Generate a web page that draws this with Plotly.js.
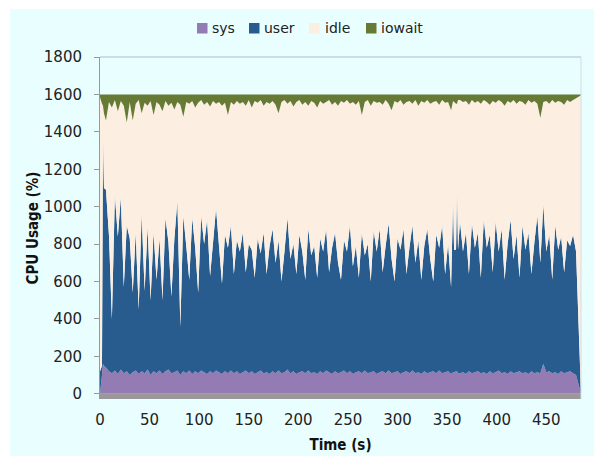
<!DOCTYPE html>
<html>
<head>
<meta charset="utf-8">
<script src="https://cdn.plot.ly/plotly-3.0.1.min.js"></script>
<style>
html,body{margin:0;padding:0;background:#ffffff;}
#chart{width:594px;height:456px;}
</style>
</head>
<body>
<div id="chart"></div>
<script>
// ---- data (~3 s sampling) ----
const seriesNames = ['sys', 'user', 'idle', 'iowait'];
const times = [0,2,3,4,6,9,12,15,18,21,24,27,30,33,36,39,42,45,48,51,54,57,60,63,66,69,72,75,78,81,84,87,90,93,96,99,102,105,108,111,114,117,120,123,126,129,132,135,138,141,144,147,150,153,156,159,162,165,168,171,174,177,180,183,186,189,192,195,198,201,204,207,210,213,216,219,222,225,228,231,234,237,240,243,246,249,252,255,258,261,264,267,270,273,276,279,282,285,288,291,294,297,300,303,306,309,312,315,318,321,324,327,330,333,336,339,342,345,348,351,354,356,357,359,360,361,363,366,369,372,375,378,381,384,387,390,393,396,399,402,405,408,411,414,417,420,423,426,429,432,435,438,441,444,447,450,453,456,459,462,465,468,471,474,477,480,485];
const sys = [0,100,160,150,140,120,110,125,105,130,110,120,
100,115,125,105,120,110,130,100,120,110,
125,105,120,130,110,115,125,100,120,110,
125,105,120,110,125,115,105,120,110,125,
115,105,120,110,125,110,120,105,115,125,
110,120,105,115,125,110,115,105,120,110,
125,110,115,130,110,120,105,115,120,110,
125,110,115,105,120,110,125,115,105,120,
110,115,125,110,120,105,115,120,110,125,
110,115,120,105,115,120,110,125,110,115,
120,105,115,120,110,125,110,115,105,120,
110,115,120,110,125,110,115,120,105,115,115,120,120,110,
110,115,105,120,110,115,120,110,115,
105,120,110,115,125,110,115,105,120,110,
115,120,110,115,105,120,110,115,110,160,
115,120,110,115,105,120,110,115,120,110,
100,0];
const user = [120,50,1230,950,950,730,290,935,735,920,460,780,
730,425,735,345,840,440,760,400,740,500,
705,395,820,680,410,715,905,260,830,680,
485,835,660,430,825,685,825,510,700,865,
675,485,730,670,775,530,700,655,745,525,
690,650,515,715,625,750,525,685,760,590,
695,490,645,810,610,680,535,735,640,500,
755,630,675,515,710,650,755,535,675,740,
590,495,695,650,780,575,675,500,750,615,
690,485,750,655,765,530,680,785,610,485,
710,665,765,520,670,775,590,705,505,670,
770,605,480,740,655,790,525,680,465,915,655,650,965,660,
810,645,755,520,800,665,740,510,815,
675,730,540,805,635,770,495,695,810,610,
735,500,790,655,755,520,700,835,590,850,
645,730,500,785,665,720,540,705,670,740,
660,0];
const idle = [1465,1400,150,400,370,710,1130,510,670,515,970,550,
730,920,690,1120,540,1005,650,1065,630,950,
715,1010,625,730,1035,690,530,1185,530,770,
940,625,750,1015,620,745,630,905,755,560,
770,950,705,710,660,905,745,790,700,890,
770,760,945,725,820,680,920,760,685,845,
680,960,810,610,845,735,920,720,785,950,
660,825,765,910,735,790,680,920,765,700,
840,955,735,810,650,880,755,945,630,820,
770,940,695,795,680,895,780,640,795,965,
725,800,665,920,785,650,870,720,955,765,
690,830,960,715,765,670,915,760,945,535,790,780,465,800,
650,800,705,905,660,775,705,930,640,
780,695,915,635,810,680,930,765,625,850,
700,945,660,775,710,915,755,600,775,550,
805,700,960,655,795,720,895,750,770,720,
820,1595];
const iowait = [15,50,60,100,140,40,70,30,90,35,60,150,
40,140,50,30,100,45,60,35,110,40,
55,90,35,60,45,80,40,55,120,40,
50,35,70,45,30,55,40,65,35,50,
40,60,45,110,40,55,35,50,40,60,
30,70,35,45,30,60,40,50,35,55,
100,40,30,50,35,65,40,30,55,40,
60,35,45,70,35,50,40,30,55,40,
60,35,45,30,50,40,55,35,110,40,
30,60,35,45,40,55,30,50,85,35,
45,30,55,40,35,50,30,60,35,45,
30,50,40,35,55,30,45,40,85,35,40,50,50,30,
30,40,35,55,30,45,35,50,30,
40,55,35,45,30,40,60,35,45,30,
50,35,40,55,30,45,35,50,125,40,
35,50,30,45,35,40,55,30,40,30,
20,5];
const yTickVals = [0,200,400,600,800,1000,1200,1400,1600,1800];
const xTickVals = [0,50,100,150,200,250,300,350,400,450];

// ---- styles ----
const colors = ['#947bb3', '#285c8e', '#fdeee2', '#667a35'];
const bg = '#e9fefe';
const FONT = 'DejaVu Sans, Verdana, sans-serif';
const BOLDFONT = 'DejaVu Sans Condensed, DejaVu Sans, sans-serif';

const L = 100, R = 13, T = 57, B = 57, W = 594, H = 456;
const pw = W - L - R, ph = H - T - B;
const pxX = p => (p - L) / pw;
const pxY = p => (H - B - p) / ph;

const values = [sys, user, idle, iowait];
const traces = values.map((v, k) => ({
  type: 'scatter',
  x: times,
  y: v,
  name: seriesNames[k],
  stackgroup: 'cpu',
  mode: 'none',
  fillcolor: colors[k],
  line: {width: 0},
  hoverinfo: 'skip',
  showlegend: false
}));

const shapes = [
  {type: 'rect', xref: 'paper', yref: 'paper', x0: pxX(10), x1: pxX(594), y0: pxY(456), y1: pxY(9),
   fillcolor: bg, line: {width: 0}, layer: 'below'},
  {type: 'rect', xref: 'paper', yref: 'y', x0: 0, x1: 1, y0: -28, y1: 0,
   fillcolor: '#999999', line: {width: 0}, layer: 'above'},
  {type: 'line', xref: 'paper', yref: 'paper', x0: 0, x1: 1, y0: 1, y1: 1,
   line: {color: '#a9bdd2', width: 1}, layer: 'above'},
  {type: 'line', xref: 'paper', yref: 'paper', x0: 1, x1: 1, y0: 0, y1: 1,
   line: {color: '#d3dde2', width: 1}, layer: 'above'}
];

// manual legend
const legSq = [197, 249, 309, 366];
const legTx = [212, 264, 325, 381];
const annotations = [];
seriesNames.forEach((n, k) => {
  shapes.push({type: 'rect', xref: 'paper', yref: 'paper',
    x0: pxX(legSq[k]), x1: pxX(legSq[k] + 10.5), y0: pxY(33.5), y1: pxY(23),
    fillcolor: colors[k], line: {width: 0}});
  annotations.push({xref: 'paper', yref: 'paper', x: pxX(legTx[k] - 2), y: pxY(28),
    xanchor: 'left', yanchor: 'middle', showarrow: false, text: n,
    font: {family: FONT, size: 14, color: '#222222'}});
});

const layout = {
  width: W, height: H,
  margin: {l: L, r: R, t: T, b: B, pad: 0},
  paper_bgcolor: '#ffffff',
  plot_bgcolor: bg,
  showlegend: false,
  xaxis: {
    range: [0, 485], tickvals: xTickVals, ticktext: xTickVals.map(String),
    showgrid: false, zeroline: false, showline: false, ticks: '',
    ticklabelstandoff: 10,
    tickfont: {family: FONT, size: 15, color: '#222222'},
    title: {text: 'Time (s)', standoff: 11, font: {family: BOLDFONT, size: 15, color: '#111111', weight: 'bold'}},
    fixedrange: true
  },
  yaxis: {
    range: [-28, 1800], tickvals: yTickVals, ticktext: yTickVals.map(String),
    showgrid: false, zeroline: false, showline: true, linecolor: '#999999', linewidth: 1,
    ticks: 'outside', ticklen: 5, tickcolor: '#999999', tickwidth: 1,
    ticklabelstandoff: 9,
    tickfont: {family: FONT, size: 15, color: '#222222'},
    title: {text: 'CPU Usage (%)', standoff: 1, font: {family: BOLDFONT, size: 15, color: '#111111', weight: 'bold'}},
    fixedrange: true
  },
  shapes: shapes,
  annotations: annotations
};

Plotly.newPlot('chart', traces, layout, {displayModeBar: false, staticPlot: true});
</script>
</body>
</html>
